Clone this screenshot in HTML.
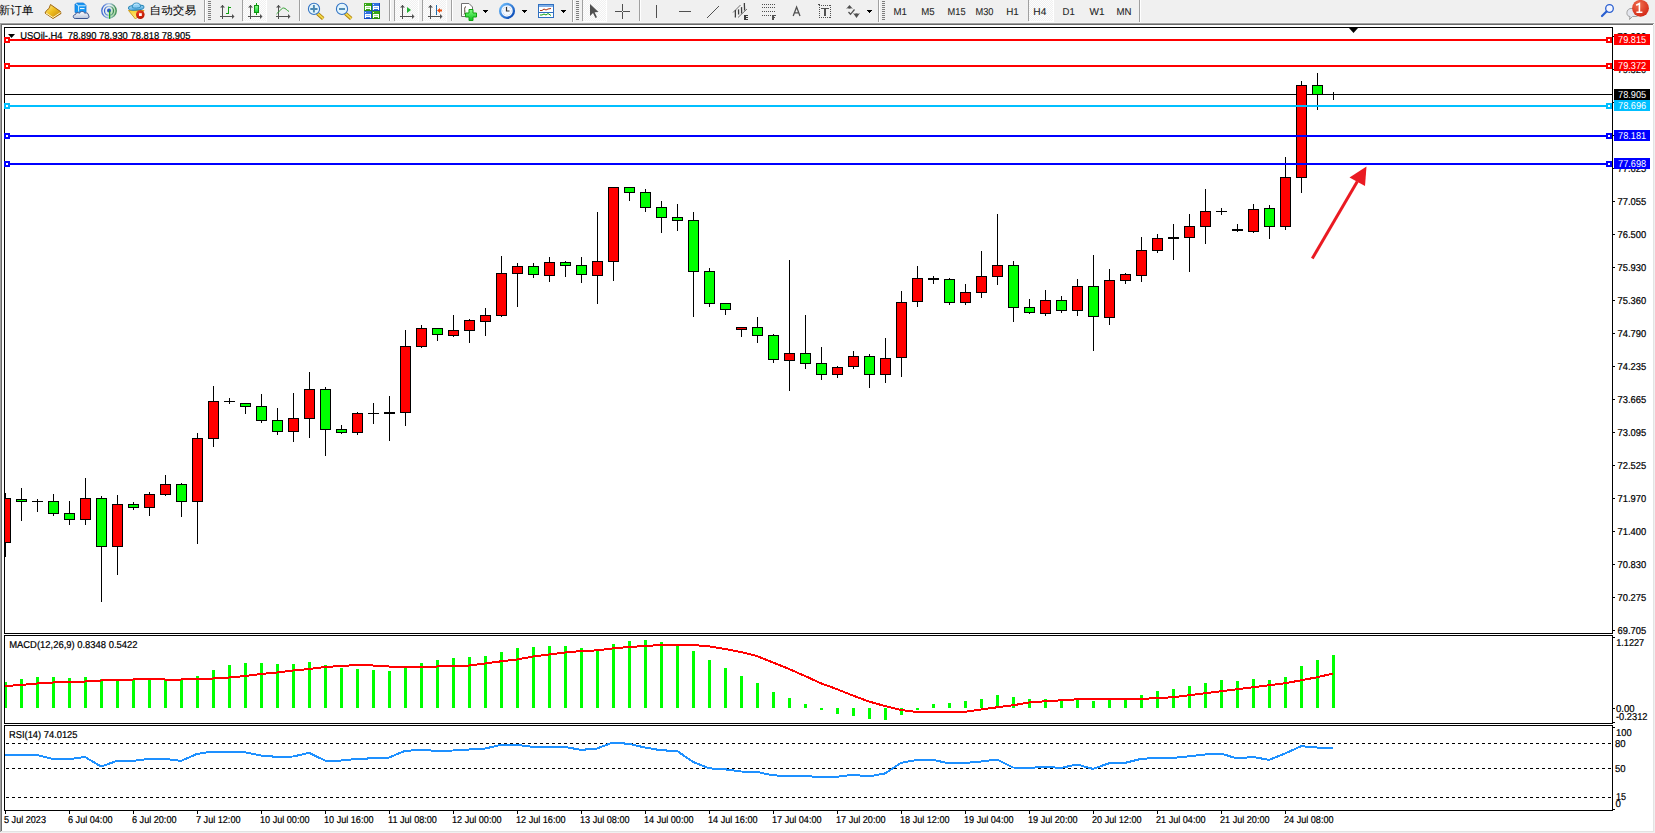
<!DOCTYPE html><html><head><meta charset="utf-8"><title>USOil-.H4</title><style>
html,body{margin:0;padding:0;}
body{width:1655px;height:833px;overflow:hidden;background:#f0f0f0;position:relative;font-family:'Liberation Sans', sans-serif;}
svg{position:absolute;left:0;top:0;display:block;}
text{font-family:'Liberation Sans', sans-serif;text-rendering:geometricPrecision;}
</style></head><body>
<svg width="1655" height="23" viewBox="0 0 1655 23" style="top:0">
<defs><pattern id="chk" width="2" height="2" patternUnits="userSpaceOnUse"><rect width="2" height="2" fill="#f0f0f0"/><rect width="1" height="1" fill="#fdfdfd"/><rect x="1" y="1" width="1" height="1" fill="#fdfdfd"/></pattern>
<linearGradient id="gold" x1="0" y1="0" x2="1" y2="1"><stop offset="0" stop-color="#fff0a0"/><stop offset=".45" stop-color="#f0c020"/><stop offset="1" stop-color="#c08010"/></linearGradient>
<linearGradient id="cloud" x1="0" y1="0" x2="0" y2="1"><stop offset="0" stop-color="#ffffff"/><stop offset="1" stop-color="#b8c4dc"/></linearGradient>
<linearGradient id="gcandle" x1="0" y1="0" x2="0" y2="1"><stop offset="0" stop-color="#90ff90"/><stop offset="1" stop-color="#10d030"/></linearGradient>
<linearGradient id="gplus" x1="0" y1="0" x2="0" y2="1"><stop offset="0" stop-color="#80ff80"/><stop offset="1" stop-color="#10c020"/></linearGradient>
<linearGradient id="radar" x1="0" y1="0" x2="1" y2="0"><stop offset="0" stop-color="#3a66d0"/><stop offset=".5" stop-color="#b0c8e8"/><stop offset="1" stop-color="#3a8a50"/></linearGradient>
<linearGradient id="radarfill" x1="0" y1="0" x2="1" y2=".6"><stop offset="0" stop-color="#f0f0f0" stop-opacity="0"/><stop offset=".5" stop-color="#e4eef0"/><stop offset="1" stop-color="#a8d8a0"/></linearGradient>
<linearGradient id="hat" x1="0" y1="0" x2="0" y2="1"><stop offset="0" stop-color="#a8dcfa"/><stop offset="1" stop-color="#50a8e0"/></linearGradient>
<linearGradient id="funnel" x1="0" y1="0" x2="0" y2="1"><stop offset="0" stop-color="#f8d030"/><stop offset="1" stop-color="#fff090"/></linearGradient>
<radialGradient id="badge" cx=".4" cy=".3" r=".8"><stop offset="0" stop-color="#f07050"/><stop offset="1" stop-color="#d02010"/></radialGradient>
<radialGradient id="stop" cx=".4" cy=".3" r=".8"><stop offset="0" stop-color="#f04020"/><stop offset="1" stop-color="#b01000"/></radialGradient>
<linearGradient id="clock" x1="0" y1="0" x2="1" y2="1"><stop offset="0" stop-color="#70c0ff"/><stop offset="1" stop-color="#0040b0"/></linearGradient>
</defs>
<rect x="0" y="22" width="1655" height="1" fill="#f6f6f6"/>
<text x="-1.5" y="13.6" font-size="11.2" fill="#000" textLength="35" lengthAdjust="spacingAndGlyphs">新订单</text>
<path d="M50.5 4.5 L60.5 11.5 L61 13.5 L53 18.5 L45 13 L46.5 10.5 L49 8.5 Z" fill="url(#gold)" stroke="#a06810" stroke-width="1"/>
<path d="M46 13 L53 17.5 L60.5 12.5" fill="none" stroke="#fff2c0" stroke-width="1"/>
<path d="M75 4 L77 3 L83.5 3 L86 5.5 L86 12.5 L75 12.5 Z" fill="#1496f2" stroke="#1a78d8" stroke-width="0.8"/>
<path d="M75.6 3.6 L78.6 5.8 L78.6 11.5 M78.6 5.8 L85.6 5.8" fill="none" stroke="#e8f6ff" stroke-width="0.9"/>
<rect x="80" y="8" width="4.5" height="1.1" fill="#e8f6ff"/>
<path d="M75.2 18.5 C72.6 18.5 72.6 14.6 75.4 14.6 C75.4 12.6 78.4 12 79.4 13.3 C80.4 10.9 84 10.9 84.8 13.3 C86 12.3 88.5 12.9 88.4 15.1 C89.6 16 89.2 18.5 87 18.5 Z" fill="url(#cloud)" stroke="#3a5590" stroke-width="1"/>
<circle cx="109" cy="10.8" r="7.6" fill="url(#radarfill)"/>
<g fill="none" stroke="url(#radar)" stroke-width="1.3">
<circle cx="109" cy="10.8" r="7.2"/>
<circle cx="109" cy="10.8" r="4.5"/>
</g>
<circle cx="109" cy="10.4" r="2" fill="#2a58c8"/>
<rect x="109" y="10.5" width="1.3" height="8.3" fill="#20a020"/>
<path d="M128.5 10.5 L135.5 19 L144 10.5 Z" fill="url(#funnel)" stroke="#d0a020" stroke-width="1"/>
<ellipse cx="136.2" cy="7.6" rx="7.8" ry="2.5" transform="rotate(-5 136.2 7.6)" fill="url(#hat)" stroke="#2a88b8" stroke-width="1"/>
<path d="M132.3 7.6 C132 4.2 134 3 136.5 3 C139 3 140.8 4.2 140.6 7 C138.5 8.2 134.5 8.4 132.3 7.6 Z" fill="#8ccff5" stroke="#2a88b8" stroke-width="0.9"/>
<path d="M134 5 C135 4 137 3.8 138.5 4.5" fill="none" stroke="#d8f0ff" stroke-width="0.8"/>
<circle cx="140.3" cy="14.6" r="4.3" fill="url(#stop)"/>
<rect x="139" y="13.2" width="2.8" height="2.8" fill="#ffffff"/>
<text x="149.5" y="13.6" font-size="11.2" fill="#000" textLength="46.5" lengthAdjust="spacingAndGlyphs">自动交易</text>
<rect x="204" y="0" width="1" height="22" fill="#a0a0a0"/>
<rect x="205" y="0" width="1" height="22" fill="#ffffff"/>
<rect x="208" y="1" width="3" height="1" fill="#7c7c7c"/>
<rect x="208" y="3" width="3" height="1" fill="#7c7c7c"/>
<rect x="208" y="5" width="3" height="1" fill="#7c7c7c"/>
<rect x="208" y="7" width="3" height="1" fill="#7c7c7c"/>
<rect x="208" y="9" width="3" height="1" fill="#7c7c7c"/>
<rect x="208" y="11" width="3" height="1" fill="#7c7c7c"/>
<rect x="208" y="13" width="3" height="1" fill="#7c7c7c"/>
<rect x="208" y="15" width="3" height="1" fill="#7c7c7c"/>
<rect x="208" y="17" width="3" height="1" fill="#7c7c7c"/>
<rect x="208" y="19" width="3" height="1" fill="#7c7c7c"/>
<rect x="222" y="5" width="1" height="14" fill="#505050"/>
<path d="M220 7.5h5l-2.5 -2.5z" fill="#505050"/>
<rect x="220" y="16" width="13" height="1" fill="#505050"/>
<path d="M232 14v5l2.5 -2.5z" fill="#505050"/>
<path d="M228.5 14 V6.5 M226 13.5 H228.5 M228.5 7.5 H231" fill="none" stroke="#10a010" stroke-width="1"/>
<rect x="242" y="0" width="1" height="21" fill="#a0a0a0"/>
<rect x="243" y="0" width="1" height="21" fill="#ffffff"/>
<rect x="243" y="0" width="23" height="21" fill="url(#chk)"/>
<rect x="266" y="0" width="1" height="22" fill="#ffffff"/>
<rect x="243" y="21" width="24" height="1" fill="#ffffff"/>
<rect x="250" y="5" width="1" height="14" fill="#505050"/>
<path d="M248 7.5h5l-2.5 -2.5z" fill="#505050"/>
<rect x="248" y="16" width="13" height="1" fill="#505050"/>
<path d="M260 14v5l2.5 -2.5z" fill="#505050"/>
<rect x="256" y="3" width="1" height="12" fill="#10a010"/>
<rect x="254.5" y="5.5" width="4" height="7" fill="url(#gcandle)" stroke="#109010" stroke-width="1"/>
<rect x="278" y="5" width="1" height="14" fill="#505050"/>
<path d="M276 7.5h5l-2.5 -2.5z" fill="#505050"/>
<rect x="276" y="16" width="13" height="1" fill="#505050"/>
<path d="M288 14v5l2.5 -2.5z" fill="#505050"/>
<path d="M276.5 14 C280 11 281.5 8 283.5 8 C285.5 8 287 10.5 289 11.5" fill="none" stroke="#30a030" stroke-width="1"/>
<rect x="299" y="0" width="1" height="21" fill="#a0a0a0"/>
<rect x="300" y="0" width="1" height="21" fill="#ffffff"/>
<path d="M317.3 13.3 L323.2 18.6" stroke="#a87800" stroke-width="3.6" stroke-linecap="butt"/>
<path d="M317.3 13.3 L323.2 18.6" stroke="#f2d84a" stroke-width="2" stroke-linecap="butt"/>
<circle cx="314.0" cy="8.9" r="5.6" fill="#e2f4fc" stroke="#3474c4" stroke-width="1.1"/>
<path d="M310.3 9h7.2M313.9 5v7.6" stroke="#4a88b4" stroke-width="1.9"/>
<path d="M345.3 13.3 L351.2 18.6" stroke="#a87800" stroke-width="3.6" stroke-linecap="butt"/>
<path d="M345.3 13.3 L351.2 18.6" stroke="#f2d84a" stroke-width="2" stroke-linecap="butt"/>
<circle cx="342.0" cy="8.9" r="5.6" fill="#e2f4fc" stroke="#3474c4" stroke-width="1.1"/>
<path d="M339.0 9h6" stroke="#4a88b4" stroke-width="1.9"/>
<g shape-rendering="crispEdges">
<rect x="364" y="3" width="8" height="8" fill="#3aa818"/>
<rect x="364" y="10" width="8" height="1" fill="#2c8c10"/><rect x="371" y="3" width="1" height="8" fill="#2c8c10"/>
<rect x="365" y="4" width="1" height="1" fill="#e8f0e8"/>
<rect x="365" y="6" width="6" height="3" fill="#ffffff"/>
<rect x="365" y="9" width="1" height="1" fill="#ffffff"/><rect x="370" y="9" width="1" height="1" fill="#ffffff"/>
<rect x="366" y="7" width="4" height="1" fill="#a8dc98"/>
<rect x="372" y="3" width="8" height="8" fill="#3070e0"/>
<rect x="372" y="10" width="8" height="1" fill="#1848c0"/><rect x="379" y="3" width="1" height="8" fill="#1848c0"/>
<rect x="373" y="4" width="1" height="1" fill="#e8f0e8"/>
<rect x="373" y="6" width="6" height="3" fill="#ffffff"/>
<rect x="373" y="9" width="1" height="1" fill="#ffffff"/><rect x="378" y="9" width="1" height="1" fill="#ffffff"/>
<rect x="374" y="7" width="4" height="1" fill="#98b8f0"/>
<rect x="364" y="11" width="8" height="8" fill="#3070e0"/>
<rect x="364" y="18" width="8" height="1" fill="#1848c0"/><rect x="371" y="11" width="1" height="8" fill="#1848c0"/>
<rect x="365" y="12" width="1" height="1" fill="#e8f0e8"/>
<rect x="365" y="14" width="6" height="3" fill="#ffffff"/>
<rect x="365" y="17" width="1" height="1" fill="#ffffff"/><rect x="370" y="17" width="1" height="1" fill="#ffffff"/>
<rect x="366" y="15" width="4" height="1" fill="#98b8f0"/>
<rect x="372" y="11" width="8" height="8" fill="#3aa818"/>
<rect x="372" y="18" width="8" height="1" fill="#2c8c10"/><rect x="379" y="11" width="1" height="8" fill="#2c8c10"/>
<rect x="373" y="12" width="1" height="1" fill="#e8f0e8"/>
<rect x="373" y="14" width="6" height="3" fill="#ffffff"/>
<rect x="373" y="17" width="1" height="1" fill="#ffffff"/><rect x="378" y="17" width="1" height="1" fill="#ffffff"/>
<rect x="374" y="15" width="4" height="1" fill="#a8dc98"/>
</g>
<rect x="389" y="0" width="1" height="21" fill="#a0a0a0"/>
<rect x="390" y="0" width="1" height="21" fill="#ffffff"/>
<rect x="394" y="0" width="1" height="21" fill="#a0a0a0"/>
<rect x="395" y="0" width="1" height="21" fill="#ffffff"/>
<rect x="395" y="0" width="23" height="21" fill="url(#chk)"/>
<rect x="418" y="0" width="1" height="22" fill="#ffffff"/>
<rect x="395" y="21" width="24" height="1" fill="#ffffff"/>
<rect x="402" y="5" width="1" height="14" fill="#505050"/>
<path d="M400 7.5h5l-2.5 -2.5z" fill="#505050"/>
<rect x="400" y="16" width="13" height="1" fill="#505050"/>
<path d="M412 14v5l2.5 -2.5z" fill="#505050"/>
<path d="M407 7 V13 L411 10 Z" fill="#20b030"/>
<rect x="422" y="0" width="1" height="21" fill="#a0a0a0"/>
<rect x="423" y="0" width="1" height="21" fill="#ffffff"/>
<rect x="423" y="0" width="23" height="21" fill="url(#chk)"/>
<rect x="446" y="0" width="1" height="22" fill="#ffffff"/>
<rect x="423" y="21" width="24" height="1" fill="#ffffff"/>
<rect x="430" y="5" width="1" height="14" fill="#505050"/>
<path d="M428 7.5h5l-2.5 -2.5z" fill="#505050"/>
<rect x="428" y="16" width="13" height="1" fill="#505050"/>
<path d="M440 14v5l2.5 -2.5z" fill="#505050"/>
<rect x="436" y="5" width="1" height="10" fill="#2070b0"/>
<path d="M437 10.5 L440 8 L440 9.5 L442 9.5 L442 11.5 L440 11.5 L440 13 Z" fill="#f05010"/>
<rect x="451" y="0" width="1" height="21" fill="#a0a0a0"/>
<rect x="452" y="0" width="1" height="21" fill="#ffffff"/>
<path d="M461.5 3.5 H469 L472.5 7 V16.5 H461.5 Z" fill="#ffffff" stroke="#707070" stroke-width="1"/>
<path d="M466 6.5 C464.5 7 464.5 9 464.8 11 C465 13 464.5 14 464 14.5" fill="none" stroke="#504030" stroke-width="1"/>
<path d="M469 9.5 H473 V13 H476.5 V17 H473 V20.5 H469 V17 H465.5 V13 H469 Z" fill="url(#gplus)" stroke="#10a010" stroke-width="1"/>
<g shape-rendering="crispEdges"><rect x="483" y="10" width="5" height="1" fill="#000"/><rect x="484" y="11" width="3" height="1" fill="#000"/><rect x="485" y="12" width="1" height="1" fill="#000"/></g>
<circle cx="507" cy="10.9" r="6.9" fill="#f4f8ff" stroke="url(#clock)" stroke-width="2.3"/>
<circle cx="507.00" cy="6.60" r=".35" fill="#8090a0"/>
<circle cx="509.15" cy="7.18" r=".35" fill="#8090a0"/>
<circle cx="510.72" cy="8.75" r=".35" fill="#8090a0"/>
<circle cx="511.30" cy="10.90" r=".35" fill="#8090a0"/>
<circle cx="510.72" cy="13.05" r=".35" fill="#8090a0"/>
<circle cx="509.15" cy="14.62" r=".35" fill="#8090a0"/>
<circle cx="507.00" cy="15.20" r=".35" fill="#8090a0"/>
<circle cx="504.85" cy="14.62" r=".35" fill="#8090a0"/>
<circle cx="503.28" cy="13.05" r=".35" fill="#8090a0"/>
<circle cx="502.70" cy="10.90" r=".35" fill="#8090a0"/>
<circle cx="503.28" cy="8.75" r=".35" fill="#8090a0"/>
<circle cx="504.85" cy="7.18" r=".35" fill="#8090a0"/>
<path d="M506.5 7 V11 H509.5" fill="none" stroke="#303030" stroke-width="1.2"/>
<g shape-rendering="crispEdges"><rect x="522" y="10" width="5" height="1" fill="#000"/><rect x="523" y="11" width="3" height="1" fill="#000"/><rect x="524" y="12" width="1" height="1" fill="#000"/></g>
<rect x="538.5" y="4.5" width="15" height="13" fill="#ffffff" stroke="#3070c0" stroke-width="1"/>
<rect x="539" y="5" width="14" height="2" fill="#80b0e8"/>
<rect x="539" y="12" width="14" height="1" fill="#3070c0"/>
<path d="M540 10.5 L542 10.5 L544 9 L546 10 L548 9 L551 8.5" fill="none" stroke="#b03010" stroke-width="1"/>
<path d="M540 15 L542 15 L544 14 L546 15 L548 13.5 L551 15.5" fill="none" stroke="#10a010" stroke-width="1"/>
<g shape-rendering="crispEdges"><rect x="561" y="10" width="5" height="1" fill="#000"/><rect x="562" y="11" width="3" height="1" fill="#000"/><rect x="563" y="12" width="1" height="1" fill="#000"/></g>
<rect x="572" y="0" width="1" height="22" fill="#a0a0a0"/>
<rect x="573" y="0" width="1" height="22" fill="#ffffff"/>
<rect x="576" y="1" width="3" height="1" fill="#7c7c7c"/>
<rect x="576" y="3" width="3" height="1" fill="#7c7c7c"/>
<rect x="576" y="5" width="3" height="1" fill="#7c7c7c"/>
<rect x="576" y="7" width="3" height="1" fill="#7c7c7c"/>
<rect x="576" y="9" width="3" height="1" fill="#7c7c7c"/>
<rect x="576" y="11" width="3" height="1" fill="#7c7c7c"/>
<rect x="576" y="13" width="3" height="1" fill="#7c7c7c"/>
<rect x="576" y="15" width="3" height="1" fill="#7c7c7c"/>
<rect x="576" y="17" width="3" height="1" fill="#7c7c7c"/>
<rect x="576" y="19" width="3" height="1" fill="#7c7c7c"/>
<rect x="582" y="0" width="1" height="21" fill="#a0a0a0"/>
<rect x="583" y="0" width="1" height="21" fill="#ffffff"/>
<rect x="583" y="0" width="23" height="21" fill="url(#chk)"/>
<rect x="606" y="0" width="1" height="22" fill="#ffffff"/>
<rect x="583" y="21" width="24" height="1" fill="#ffffff"/>
<path d="M590 4 L590 16 L593 13 L595.5 18 L597 17.2 L594.6 12.3 L598.5 12 Z" fill="#505050"/>
<g shape-rendering="crispEdges"><rect x="622" y="4" width="1" height="15" fill="#505050"/><rect x="615" y="11" width="15" height="1" fill="#505050"/>
<rect x="622" y="11" width="1" height="1" fill="#f0f0f0"/></g>
<rect x="639" y="0" width="1" height="21" fill="#a0a0a0"/>
<rect x="640" y="0" width="1" height="21" fill="#ffffff"/>
<rect x="656" y="5" width="1" height="13" fill="#505050"/>
<rect x="679" y="11" width="12" height="1" fill="#505050"/>
<path d="M707 18 L719 6" stroke="#505050" stroke-width="1"/>
<path d="M733 12.5 L740.5 5 M738 17.5 L747 9" stroke="#707070" stroke-width="1" fill="none"/>
<path d="M735.5 10 C735 13 735.8 15 735.2 17.5 M738.6 9.3 C738.3 11 738.9 13 738.5 14.5 M741.6 7.2 C741.3 9.5 741.9 11 741.5 13.5 M744.4 3 C744.2 6 744.8 8 744.5 10.5" stroke="#404040" stroke-width="1.3" fill="none"/>
<g shape-rendering="crispEdges" fill="#3c3c3c"><rect x="744" y="15" width="2" height="5"/><rect x="744" y="15" width="4" height="1"/><rect x="744" y="17" width="4" height="1"/><rect x="744" y="19" width="4" height="1"/></g>
<g shape-rendering="crispEdges" fill="#505050">
<rect x="762" y="4" width="1" height="1"/>
<rect x="764" y="4" width="1" height="1"/>
<rect x="766" y="4" width="1" height="1"/>
<rect x="768" y="4" width="1" height="1"/>
<rect x="770" y="4" width="1" height="1"/>
<rect x="772" y="4" width="1" height="1"/>
<rect x="774" y="4" width="1" height="1"/>
<rect x="762" y="7" width="1" height="1"/>
<rect x="764" y="7" width="1" height="1"/>
<rect x="766" y="7" width="1" height="1"/>
<rect x="768" y="7" width="1" height="1"/>
<rect x="770" y="7" width="1" height="1"/>
<rect x="772" y="7" width="1" height="1"/>
<rect x="774" y="7" width="1" height="1"/>
<rect x="762" y="11" width="1" height="1"/>
<rect x="764" y="11" width="1" height="1"/>
<rect x="766" y="11" width="1" height="1"/>
<rect x="768" y="11" width="1" height="1"/>
<rect x="770" y="11" width="1" height="1"/>
<rect x="772" y="11" width="1" height="1"/>
<rect x="774" y="11" width="1" height="1"/>
<rect x="762" y="15" width="1" height="1"/>
<rect x="764" y="15" width="1" height="1"/>
<rect x="766" y="15" width="1" height="1"/>
<rect x="768" y="15" width="1" height="1"/>
<rect x="770" y="15" width="1" height="1"/>
<rect x="772" y="15" width="2" height="5"/><rect x="772" y="15" width="4" height="1"/><rect x="772" y="17" width="3" height="1"/>
</g>
<path d="M793.2 16 L796.6 7 L800 16 M794.5 12.8 H798.7" fill="none" stroke="#505050" stroke-width="1.3"/>
<g shape-rendering="crispEdges" fill="#505050">
<rect x="819" y="5" width="1" height="1"/><rect x="819" y="17" width="1" height="1"/>
<rect x="821" y="5" width="1" height="1"/><rect x="821" y="17" width="1" height="1"/>
<rect x="823" y="5" width="1" height="1"/><rect x="823" y="17" width="1" height="1"/>
<rect x="825" y="5" width="1" height="1"/><rect x="825" y="17" width="1" height="1"/>
<rect x="827" y="5" width="1" height="1"/><rect x="827" y="17" width="1" height="1"/>
<rect x="829" y="5" width="1" height="1"/><rect x="829" y="17" width="1" height="1"/>
<rect x="819" y="5" width="1" height="1"/><rect x="830" y="5" width="1" height="1"/>
<rect x="819" y="7" width="1" height="1"/><rect x="830" y="7" width="1" height="1"/>
<rect x="819" y="9" width="1" height="1"/><rect x="830" y="9" width="1" height="1"/>
<rect x="819" y="11" width="1" height="1"/><rect x="830" y="11" width="1" height="1"/>
<rect x="819" y="13" width="1" height="1"/><rect x="830" y="13" width="1" height="1"/>
<rect x="819" y="15" width="1" height="1"/><rect x="830" y="15" width="1" height="1"/>
<rect x="819" y="17" width="1" height="1"/><rect x="830" y="17" width="1" height="1"/>
<rect x="818" y="4" width="2" height="1"/>
<rect x="821" y="8" width="8" height="1"/><rect x="824" y="8" width="2" height="8"/>
</g>
<path d="M846 9 L849.5 5 L853 9 L851.5 8.2 L849.5 8.8 L847.5 8.2 Z M853 13 L854.5 13.8 L856.5 13.2 L858.5 13.8 L860 13 L856.5 18 Z" fill="#505050"/>
<path d="M848.5 12 L850.5 14.3 L854.5 9.5" fill="none" stroke="#505050" stroke-width="1.3"/>
<g shape-rendering="crispEdges"><rect x="867" y="10" width="5" height="1" fill="#000"/><rect x="868" y="11" width="3" height="1" fill="#000"/><rect x="869" y="12" width="1" height="1" fill="#000"/></g>
<rect x="878" y="0" width="1" height="22" fill="#a0a0a0"/>
<rect x="879" y="0" width="1" height="22" fill="#ffffff"/>
<rect x="882" y="1" width="3" height="1" fill="#7c7c7c"/>
<rect x="882" y="3" width="3" height="1" fill="#7c7c7c"/>
<rect x="882" y="5" width="3" height="1" fill="#7c7c7c"/>
<rect x="882" y="7" width="3" height="1" fill="#7c7c7c"/>
<rect x="882" y="9" width="3" height="1" fill="#7c7c7c"/>
<rect x="882" y="11" width="3" height="1" fill="#7c7c7c"/>
<rect x="882" y="13" width="3" height="1" fill="#7c7c7c"/>
<rect x="882" y="15" width="3" height="1" fill="#7c7c7c"/>
<rect x="882" y="17" width="3" height="1" fill="#7c7c7c"/>
<rect x="882" y="19" width="3" height="1" fill="#7c7c7c"/>
<text x="893.50" y="15.20" font-size="10.00" fill="#222222" stroke="#222222" stroke-width="0.08" textLength="13.40" lengthAdjust="spacingAndGlyphs" >M1</text>
<text x="921.30" y="15.20" font-size="10.00" fill="#222222" stroke="#222222" stroke-width="0.08" textLength="13.40" lengthAdjust="spacingAndGlyphs" >M5</text>
<text x="947.60" y="15.20" font-size="10.00" fill="#222222" stroke="#222222" stroke-width="0.08" textLength="18.00" lengthAdjust="spacingAndGlyphs" >M15</text>
<text x="975.50" y="15.20" font-size="10.00" fill="#222222" stroke="#222222" stroke-width="0.08" textLength="18.00" lengthAdjust="spacingAndGlyphs" >M30</text>
<text x="1006.20" y="15.20" font-size="10.00" fill="#222222" stroke="#222222" stroke-width="0.08" textLength="12.60" lengthAdjust="spacingAndGlyphs" >H1</text>
<rect x="1028" y="0" width="1" height="21" fill="#a0a0a0"/>
<rect x="1029" y="0" width="24" height="21" fill="url(#chk)"/>
<rect x="1053" y="0" width="1" height="22" fill="#ffffff"/>
<rect x="1029" y="21" width="25" height="1" fill="#ffffff"/>
<text x="1033.30" y="15.20" font-size="10.00" fill="#222222" stroke="#222222" stroke-width="0.08" textLength="13.00" lengthAdjust="spacingAndGlyphs" >H4</text>
<text x="1062.50" y="15.20" font-size="10.00" fill="#222222" stroke="#222222" stroke-width="0.08" textLength="12.20" lengthAdjust="spacingAndGlyphs" >D1</text>
<text x="1089.60" y="15.20" font-size="10.00" fill="#222222" stroke="#222222" stroke-width="0.08" textLength="15.00" lengthAdjust="spacingAndGlyphs" >W1</text>
<text x="1116.60" y="15.20" font-size="10.00" fill="#222222" stroke="#222222" stroke-width="0.08" textLength="15.00" lengthAdjust="spacingAndGlyphs" >MN</text>
<rect x="1139" y="0" width="1" height="22" fill="#a0a0a0"/>
<rect x="1140" y="0" width="1" height="22" fill="#ffffff"/>
<circle cx="1609.5" cy="8.5" r="3.8" fill="#f4f6ff" stroke="#2a5fd0" stroke-width="1.3"/>
<path d="M1606.5 11.5 L1602 16" stroke="#2a5fd0" stroke-width="2.2" stroke-linecap="round"/>
<path d="M1631 8.5 C1626 8.5 1625.5 16.5 1630 16.5 L1629.5 19.5 L1632.5 16.5 L1636 16.5 C1640 16.5 1640 8.5 1636 8.5 Z" fill="#e4e6ee" stroke="#a0a0a0" stroke-width="1"/>
<circle cx="1640.5" cy="8.3" r="8.4" fill="url(#badge)"/>
<path d="M1636.2 5.2 L1639.4 3.6 L1639.4 11.6 M1636.4 12.3 H1642.4" fill="none" stroke="#ffffff" stroke-width="1.6"/>
</svg>
<svg width="1655" height="810" viewBox="0 23 1655 810" style="top:23px" shape-rendering="crispEdges">
<rect x="0" y="23" width="1655" height="810" fill="#ffffff"/>
<rect x="0" y="23" width="1654" height="1" fill="#a0a0a0"/>
<rect x="0" y="24" width="1653" height="1" fill="#696969"/>
<rect x="0" y="23" width="1" height="809" fill="#a0a0a0"/>
<rect x="1" y="24" width="1" height="807" fill="#696969"/>
<rect x="1653" y="25" width="1" height="807" fill="#e3e3e3"/>
<rect x="1" y="831" width="1653" height="1" fill="#e3e3e3"/>
<rect x="1654" y="23" width="1" height="810" fill="#f0f0f0"/>
<rect x="0" y="832" width="1655" height="1" fill="#f0f0f0"/>
<rect x="4" y="27" width="1609" height="1" fill="#000"/>
<rect x="4" y="633" width="1609" height="1" fill="#000"/>
<rect x="4" y="27" width="1" height="607" fill="#000"/>
<rect x="1612" y="27" width="1" height="607" fill="#000"/>
<rect x="4" y="635" width="1609" height="1" fill="#000"/>
<rect x="4" y="723" width="1609" height="1" fill="#000"/>
<rect x="4" y="635" width="1" height="89" fill="#000"/>
<rect x="1612" y="635" width="1" height="89" fill="#000"/>
<rect x="4" y="725" width="1609" height="1" fill="#000"/>
<rect x="4" y="810" width="1609" height="1" fill="#000"/>
<rect x="4" y="725" width="1" height="86" fill="#000"/>
<rect x="1612" y="725" width="1" height="86" fill="#000"/>
<defs><clipPath id="cm"><rect x="5" y="28" width="1607" height="605"/></clipPath>
<clipPath id="cmacd"><rect x="5" y="636" width="1607" height="87"/></clipPath>
<clipPath id="crsi"><rect x="5" y="726" width="1607" height="84"/></clipPath></defs>
<g clip-path="url(#cm)">
<rect x="5" y="94" width="1607" height="1" fill="#000"/>
<rect x="5" y="493" width="1" height="64" fill="#000"/>
<rect x="0" y="498" width="11" height="45" fill="#000"/>
<rect x="1" y="499" width="9" height="43" fill="#ff0000"/>
<rect x="21" y="488" width="1" height="33" fill="#000"/>
<rect x="16" y="499" width="11" height="3" fill="#000"/>
<rect x="17" y="500" width="9" height="1" fill="#00ff00"/>
<rect x="37" y="499" width="1" height="13" fill="#000"/>
<rect x="32" y="501" width="11" height="1" fill="#000"/>
<rect x="53" y="494" width="1" height="22" fill="#000"/>
<rect x="48" y="501" width="11" height="13" fill="#000"/>
<rect x="49" y="502" width="9" height="11" fill="#00ff00"/>
<rect x="69" y="501" width="1" height="24" fill="#000"/>
<rect x="64" y="513" width="11" height="7" fill="#000"/>
<rect x="65" y="514" width="9" height="5" fill="#00ff00"/>
<rect x="85" y="478" width="1" height="47" fill="#000"/>
<rect x="80" y="498" width="11" height="22" fill="#000"/>
<rect x="81" y="499" width="9" height="20" fill="#ff0000"/>
<rect x="101" y="496" width="1" height="106" fill="#000"/>
<rect x="96" y="498" width="11" height="49" fill="#000"/>
<rect x="97" y="499" width="9" height="47" fill="#00ff00"/>
<rect x="117" y="495" width="1" height="80" fill="#000"/>
<rect x="112" y="504" width="11" height="43" fill="#000"/>
<rect x="113" y="505" width="9" height="41" fill="#ff0000"/>
<rect x="133" y="502" width="1" height="8" fill="#000"/>
<rect x="128" y="504" width="11" height="4" fill="#000"/>
<rect x="129" y="505" width="9" height="2" fill="#00ff00"/>
<rect x="149" y="492" width="1" height="24" fill="#000"/>
<rect x="144" y="494" width="11" height="14" fill="#000"/>
<rect x="145" y="495" width="9" height="12" fill="#ff0000"/>
<rect x="165" y="475" width="1" height="21" fill="#000"/>
<rect x="160" y="484" width="11" height="11" fill="#000"/>
<rect x="161" y="485" width="9" height="9" fill="#ff0000"/>
<rect x="181" y="483" width="1" height="34" fill="#000"/>
<rect x="176" y="484" width="11" height="18" fill="#000"/>
<rect x="177" y="485" width="9" height="16" fill="#00ff00"/>
<rect x="197" y="433" width="1" height="111" fill="#000"/>
<rect x="192" y="438" width="11" height="64" fill="#000"/>
<rect x="193" y="439" width="9" height="62" fill="#ff0000"/>
<rect x="213" y="386" width="1" height="61" fill="#000"/>
<rect x="208" y="401" width="11" height="38" fill="#000"/>
<rect x="209" y="402" width="9" height="36" fill="#ff0000"/>
<rect x="229" y="398" width="1" height="6" fill="#000"/>
<rect x="224" y="401" width="11" height="1" fill="#000"/>
<rect x="245" y="403" width="1" height="11" fill="#000"/>
<rect x="240" y="403" width="11" height="4" fill="#000"/>
<rect x="241" y="404" width="9" height="2" fill="#00ff00"/>
<rect x="261" y="394" width="1" height="29" fill="#000"/>
<rect x="256" y="406" width="11" height="15" fill="#000"/>
<rect x="257" y="407" width="9" height="13" fill="#00ff00"/>
<rect x="277" y="408" width="1" height="27" fill="#000"/>
<rect x="272" y="420" width="11" height="12" fill="#000"/>
<rect x="273" y="421" width="9" height="10" fill="#00ff00"/>
<rect x="293" y="393" width="1" height="49" fill="#000"/>
<rect x="288" y="418" width="11" height="14" fill="#000"/>
<rect x="289" y="419" width="9" height="12" fill="#ff0000"/>
<rect x="309" y="372" width="1" height="66" fill="#000"/>
<rect x="304" y="389" width="11" height="30" fill="#000"/>
<rect x="305" y="390" width="9" height="28" fill="#ff0000"/>
<rect x="325" y="387" width="1" height="69" fill="#000"/>
<rect x="320" y="389" width="11" height="41" fill="#000"/>
<rect x="321" y="390" width="9" height="39" fill="#00ff00"/>
<rect x="341" y="425" width="1" height="9" fill="#000"/>
<rect x="336" y="429" width="11" height="4" fill="#000"/>
<rect x="337" y="430" width="9" height="2" fill="#00ff00"/>
<rect x="357" y="412" width="1" height="23" fill="#000"/>
<rect x="352" y="413" width="11" height="20" fill="#000"/>
<rect x="353" y="414" width="9" height="18" fill="#ff0000"/>
<rect x="373" y="403" width="1" height="21" fill="#000"/>
<rect x="368" y="413" width="11" height="1" fill="#000"/>
<rect x="389" y="396" width="1" height="45" fill="#000"/>
<rect x="384" y="412" width="11" height="2" fill="#000"/>
<rect x="405" y="330" width="1" height="96" fill="#000"/>
<rect x="400" y="346" width="11" height="67" fill="#000"/>
<rect x="401" y="347" width="9" height="65" fill="#ff0000"/>
<rect x="421" y="325" width="1" height="23" fill="#000"/>
<rect x="416" y="328" width="11" height="19" fill="#000"/>
<rect x="417" y="329" width="9" height="17" fill="#ff0000"/>
<rect x="437" y="328" width="1" height="13" fill="#000"/>
<rect x="432" y="328" width="11" height="7" fill="#000"/>
<rect x="433" y="329" width="9" height="5" fill="#00ff00"/>
<rect x="453" y="315" width="1" height="22" fill="#000"/>
<rect x="448" y="330" width="11" height="6" fill="#000"/>
<rect x="449" y="331" width="9" height="4" fill="#ff0000"/>
<rect x="469" y="319" width="1" height="24" fill="#000"/>
<rect x="464" y="320" width="11" height="11" fill="#000"/>
<rect x="465" y="321" width="9" height="9" fill="#ff0000"/>
<rect x="485" y="308" width="1" height="28" fill="#000"/>
<rect x="480" y="315" width="11" height="7" fill="#000"/>
<rect x="481" y="316" width="9" height="5" fill="#ff0000"/>
<rect x="501" y="256" width="1" height="61" fill="#000"/>
<rect x="496" y="273" width="11" height="43" fill="#000"/>
<rect x="497" y="274" width="9" height="41" fill="#ff0000"/>
<rect x="517" y="263" width="1" height="44" fill="#000"/>
<rect x="512" y="266" width="11" height="8" fill="#000"/>
<rect x="513" y="267" width="9" height="6" fill="#ff0000"/>
<rect x="533" y="263" width="1" height="15" fill="#000"/>
<rect x="528" y="266" width="11" height="9" fill="#000"/>
<rect x="529" y="267" width="9" height="7" fill="#00ff00"/>
<rect x="549" y="257" width="1" height="25" fill="#000"/>
<rect x="544" y="262" width="11" height="14" fill="#000"/>
<rect x="545" y="263" width="9" height="12" fill="#ff0000"/>
<rect x="565" y="261" width="1" height="16" fill="#000"/>
<rect x="560" y="262" width="11" height="4" fill="#000"/>
<rect x="561" y="263" width="9" height="2" fill="#00ff00"/>
<rect x="581" y="257" width="1" height="26" fill="#000"/>
<rect x="576" y="265" width="11" height="10" fill="#000"/>
<rect x="577" y="266" width="9" height="8" fill="#00ff00"/>
<rect x="597" y="212" width="1" height="92" fill="#000"/>
<rect x="592" y="261" width="11" height="15" fill="#000"/>
<rect x="593" y="262" width="9" height="13" fill="#ff0000"/>
<rect x="613" y="187" width="1" height="94" fill="#000"/>
<rect x="608" y="187" width="11" height="75" fill="#000"/>
<rect x="609" y="188" width="9" height="73" fill="#ff0000"/>
<rect x="629" y="187" width="1" height="14" fill="#000"/>
<rect x="624" y="187" width="11" height="6" fill="#000"/>
<rect x="625" y="188" width="9" height="4" fill="#00ff00"/>
<rect x="645" y="189" width="1" height="23" fill="#000"/>
<rect x="640" y="192" width="11" height="16" fill="#000"/>
<rect x="641" y="193" width="9" height="14" fill="#00ff00"/>
<rect x="661" y="201" width="1" height="32" fill="#000"/>
<rect x="656" y="207" width="11" height="11" fill="#000"/>
<rect x="657" y="208" width="9" height="9" fill="#00ff00"/>
<rect x="677" y="204" width="1" height="27" fill="#000"/>
<rect x="672" y="217" width="11" height="4" fill="#000"/>
<rect x="673" y="218" width="9" height="2" fill="#00ff00"/>
<rect x="693" y="212" width="1" height="105" fill="#000"/>
<rect x="688" y="220" width="11" height="52" fill="#000"/>
<rect x="689" y="221" width="9" height="50" fill="#00ff00"/>
<rect x="709" y="268" width="1" height="39" fill="#000"/>
<rect x="704" y="271" width="11" height="33" fill="#000"/>
<rect x="705" y="272" width="9" height="31" fill="#00ff00"/>
<rect x="725" y="303" width="1" height="12" fill="#000"/>
<rect x="720" y="303" width="11" height="7" fill="#000"/>
<rect x="721" y="304" width="9" height="5" fill="#00ff00"/>
<rect x="741" y="327" width="1" height="10" fill="#000"/>
<rect x="736" y="327" width="11" height="3" fill="#000"/>
<rect x="737" y="328" width="9" height="1" fill="#ff0000"/>
<rect x="757" y="317" width="1" height="26" fill="#000"/>
<rect x="752" y="327" width="11" height="9" fill="#000"/>
<rect x="753" y="328" width="9" height="7" fill="#00ff00"/>
<rect x="773" y="334" width="1" height="29" fill="#000"/>
<rect x="768" y="335" width="11" height="25" fill="#000"/>
<rect x="769" y="336" width="9" height="23" fill="#00ff00"/>
<rect x="789" y="260" width="1" height="131" fill="#000"/>
<rect x="784" y="353" width="11" height="8" fill="#000"/>
<rect x="785" y="354" width="9" height="6" fill="#ff0000"/>
<rect x="805" y="315" width="1" height="54" fill="#000"/>
<rect x="800" y="353" width="11" height="11" fill="#000"/>
<rect x="801" y="354" width="9" height="9" fill="#00ff00"/>
<rect x="821" y="347" width="1" height="33" fill="#000"/>
<rect x="816" y="363" width="11" height="12" fill="#000"/>
<rect x="817" y="364" width="9" height="10" fill="#00ff00"/>
<rect x="837" y="366" width="1" height="12" fill="#000"/>
<rect x="832" y="367" width="11" height="8" fill="#000"/>
<rect x="833" y="368" width="9" height="6" fill="#ff0000"/>
<rect x="853" y="351" width="1" height="18" fill="#000"/>
<rect x="848" y="356" width="11" height="11" fill="#000"/>
<rect x="849" y="357" width="9" height="9" fill="#ff0000"/>
<rect x="869" y="354" width="1" height="34" fill="#000"/>
<rect x="864" y="356" width="11" height="19" fill="#000"/>
<rect x="865" y="357" width="9" height="17" fill="#00ff00"/>
<rect x="885" y="338" width="1" height="45" fill="#000"/>
<rect x="880" y="358" width="11" height="17" fill="#000"/>
<rect x="881" y="359" width="9" height="15" fill="#ff0000"/>
<rect x="901" y="291" width="1" height="86" fill="#000"/>
<rect x="896" y="302" width="11" height="56" fill="#000"/>
<rect x="897" y="303" width="9" height="54" fill="#ff0000"/>
<rect x="917" y="266" width="1" height="41" fill="#000"/>
<rect x="912" y="278" width="11" height="24" fill="#000"/>
<rect x="913" y="279" width="9" height="22" fill="#ff0000"/>
<rect x="933" y="276" width="1" height="8" fill="#000"/>
<rect x="928" y="278" width="11" height="2" fill="#000"/>
<rect x="949" y="278" width="1" height="27" fill="#000"/>
<rect x="944" y="279" width="11" height="24" fill="#000"/>
<rect x="945" y="280" width="9" height="22" fill="#00ff00"/>
<rect x="965" y="284" width="1" height="21" fill="#000"/>
<rect x="960" y="292" width="11" height="11" fill="#000"/>
<rect x="961" y="293" width="9" height="9" fill="#ff0000"/>
<rect x="981" y="251" width="1" height="47" fill="#000"/>
<rect x="976" y="276" width="11" height="17" fill="#000"/>
<rect x="977" y="277" width="9" height="15" fill="#ff0000"/>
<rect x="997" y="214" width="1" height="71" fill="#000"/>
<rect x="992" y="265" width="11" height="12" fill="#000"/>
<rect x="993" y="266" width="9" height="10" fill="#ff0000"/>
<rect x="1013" y="261" width="1" height="61" fill="#000"/>
<rect x="1008" y="265" width="11" height="43" fill="#000"/>
<rect x="1009" y="266" width="9" height="41" fill="#00ff00"/>
<rect x="1029" y="299" width="1" height="15" fill="#000"/>
<rect x="1024" y="307" width="11" height="6" fill="#000"/>
<rect x="1025" y="308" width="9" height="4" fill="#00ff00"/>
<rect x="1045" y="290" width="1" height="26" fill="#000"/>
<rect x="1040" y="300" width="11" height="14" fill="#000"/>
<rect x="1041" y="301" width="9" height="12" fill="#ff0000"/>
<rect x="1061" y="296" width="1" height="17" fill="#000"/>
<rect x="1056" y="300" width="11" height="11" fill="#000"/>
<rect x="1057" y="301" width="9" height="9" fill="#00ff00"/>
<rect x="1077" y="279" width="1" height="37" fill="#000"/>
<rect x="1072" y="286" width="11" height="25" fill="#000"/>
<rect x="1073" y="287" width="9" height="23" fill="#ff0000"/>
<rect x="1093" y="255" width="1" height="96" fill="#000"/>
<rect x="1088" y="286" width="11" height="31" fill="#000"/>
<rect x="1089" y="287" width="9" height="29" fill="#00ff00"/>
<rect x="1109" y="269" width="1" height="56" fill="#000"/>
<rect x="1104" y="280" width="11" height="38" fill="#000"/>
<rect x="1105" y="281" width="9" height="36" fill="#ff0000"/>
<rect x="1125" y="273" width="1" height="11" fill="#000"/>
<rect x="1120" y="274" width="11" height="7" fill="#000"/>
<rect x="1121" y="275" width="9" height="5" fill="#ff0000"/>
<rect x="1141" y="237" width="1" height="45" fill="#000"/>
<rect x="1136" y="250" width="11" height="26" fill="#000"/>
<rect x="1137" y="251" width="9" height="24" fill="#ff0000"/>
<rect x="1157" y="234" width="1" height="19" fill="#000"/>
<rect x="1152" y="238" width="11" height="13" fill="#000"/>
<rect x="1153" y="239" width="9" height="11" fill="#ff0000"/>
<rect x="1173" y="224" width="1" height="36" fill="#000"/>
<rect x="1168" y="237" width="11" height="2" fill="#000"/>
<rect x="1189" y="214" width="1" height="58" fill="#000"/>
<rect x="1184" y="226" width="11" height="12" fill="#000"/>
<rect x="1185" y="227" width="9" height="10" fill="#ff0000"/>
<rect x="1205" y="189" width="1" height="55" fill="#000"/>
<rect x="1200" y="211" width="11" height="16" fill="#000"/>
<rect x="1201" y="212" width="9" height="14" fill="#ff0000"/>
<rect x="1221" y="208" width="1" height="7" fill="#000"/>
<rect x="1216" y="211" width="11" height="1" fill="#000"/>
<rect x="1237" y="224" width="1" height="8" fill="#000"/>
<rect x="1232" y="229" width="11" height="2" fill="#000"/>
<rect x="1253" y="204" width="1" height="29" fill="#000"/>
<rect x="1248" y="209" width="11" height="23" fill="#000"/>
<rect x="1249" y="210" width="9" height="21" fill="#ff0000"/>
<rect x="1269" y="205" width="1" height="34" fill="#000"/>
<rect x="1264" y="208" width="11" height="19" fill="#000"/>
<rect x="1265" y="209" width="9" height="17" fill="#00ff00"/>
<rect x="1285" y="157" width="1" height="73" fill="#000"/>
<rect x="1280" y="177" width="11" height="50" fill="#000"/>
<rect x="1281" y="178" width="9" height="48" fill="#ff0000"/>
<rect x="1301" y="81" width="1" height="112" fill="#000"/>
<rect x="1296" y="85" width="11" height="93" fill="#000"/>
<rect x="1297" y="86" width="9" height="91" fill="#ff0000"/>
<rect x="1317" y="73" width="1" height="37" fill="#000"/>
<rect x="1312" y="85" width="11" height="10" fill="#000"/>
<rect x="1313" y="86" width="9" height="8" fill="#00ff00"/>
<rect x="1333" y="92" width="1" height="8" fill="#000"/>
<rect x="1328" y="94" width="11" height="1" fill="#000"/>
<rect x="5" y="39" width="1607" height="2" fill="#ff0000"/>
<rect x="5" y="65" width="1607" height="2" fill="#ff0000"/>
<rect x="5" y="105" width="1607" height="2" fill="#00bfff"/>
<rect x="5" y="135" width="1607" height="2" fill="#0000ff"/>
<rect x="5" y="163" width="1607" height="2" fill="#0000ff"/>
</g>
<rect x="4" y="37" width="6" height="6" fill="#ff0000"/>
<rect x="6" y="39" width="2" height="2" fill="#ffffff"/>
<rect x="1606" y="37" width="6" height="6" fill="#ff0000"/>
<rect x="1608" y="39" width="2" height="2" fill="#ffffff"/>
<rect x="4" y="63" width="6" height="6" fill="#ff0000"/>
<rect x="6" y="65" width="2" height="2" fill="#ffffff"/>
<rect x="1606" y="63" width="6" height="6" fill="#ff0000"/>
<rect x="1608" y="65" width="2" height="2" fill="#ffffff"/>
<rect x="4" y="103" width="6" height="6" fill="#00bfff"/>
<rect x="6" y="105" width="2" height="2" fill="#ffffff"/>
<rect x="1606" y="103" width="6" height="6" fill="#00bfff"/>
<rect x="1608" y="105" width="2" height="2" fill="#ffffff"/>
<rect x="4" y="133" width="6" height="6" fill="#0000ff"/>
<rect x="6" y="135" width="2" height="2" fill="#ffffff"/>
<rect x="1606" y="133" width="6" height="6" fill="#0000ff"/>
<rect x="1608" y="135" width="2" height="2" fill="#ffffff"/>
<rect x="4" y="161" width="6" height="6" fill="#0000ff"/>
<rect x="6" y="163" width="2" height="2" fill="#ffffff"/>
<rect x="1606" y="161" width="6" height="6" fill="#0000ff"/>
<rect x="1608" y="163" width="2" height="2" fill="#ffffff"/>
<path d="M1349 28 L1358 28 L1353.5 33 Z" fill="#000" shape-rendering="auto"/>
<path d="M8 34 L15 34 L11.5 38 Z" fill="#000" shape-rendering="auto"/>
<g shape-rendering="auto"><path d="M1312.3 258.5 L1357.3 181.5" stroke="#ea1a22" stroke-width="3" fill="none"/>
<path d="M1366.5 166.5 L1349.5 177.5 L1365 186 Z" fill="#ea1a22"/></g>
<g clip-path="url(#cmacd)">
<rect x="4" y="682" width="3" height="26" fill="#00ff00"/>
<rect x="20" y="679" width="3" height="29" fill="#00ff00"/>
<rect x="36" y="677" width="3" height="31" fill="#00ff00"/>
<rect x="52" y="677" width="3" height="31" fill="#00ff00"/>
<rect x="68" y="678" width="3" height="30" fill="#00ff00"/>
<rect x="84" y="677" width="3" height="31" fill="#00ff00"/>
<rect x="100" y="679" width="3" height="29" fill="#00ff00"/>
<rect x="116" y="679" width="3" height="29" fill="#00ff00"/>
<rect x="132" y="679" width="3" height="29" fill="#00ff00"/>
<rect x="148" y="679" width="3" height="29" fill="#00ff00"/>
<rect x="164" y="679" width="3" height="29" fill="#00ff00"/>
<rect x="180" y="680" width="3" height="28" fill="#00ff00"/>
<rect x="196" y="676" width="3" height="32" fill="#00ff00"/>
<rect x="212" y="670" width="3" height="38" fill="#00ff00"/>
<rect x="228" y="665" width="3" height="43" fill="#00ff00"/>
<rect x="244" y="663" width="3" height="45" fill="#00ff00"/>
<rect x="260" y="663" width="3" height="45" fill="#00ff00"/>
<rect x="276" y="664" width="3" height="44" fill="#00ff00"/>
<rect x="292" y="664" width="3" height="44" fill="#00ff00"/>
<rect x="308" y="662" width="3" height="46" fill="#00ff00"/>
<rect x="324" y="665" width="3" height="43" fill="#00ff00"/>
<rect x="340" y="668" width="3" height="40" fill="#00ff00"/>
<rect x="356" y="669" width="3" height="39" fill="#00ff00"/>
<rect x="372" y="670" width="3" height="38" fill="#00ff00"/>
<rect x="388" y="671" width="3" height="37" fill="#00ff00"/>
<rect x="404" y="667" width="3" height="41" fill="#00ff00"/>
<rect x="420" y="663" width="3" height="45" fill="#00ff00"/>
<rect x="436" y="660" width="3" height="48" fill="#00ff00"/>
<rect x="452" y="658" width="3" height="50" fill="#00ff00"/>
<rect x="468" y="657" width="3" height="51" fill="#00ff00"/>
<rect x="484" y="656" width="3" height="52" fill="#00ff00"/>
<rect x="500" y="652" width="3" height="56" fill="#00ff00"/>
<rect x="516" y="648" width="3" height="60" fill="#00ff00"/>
<rect x="532" y="647" width="3" height="61" fill="#00ff00"/>
<rect x="548" y="646" width="3" height="62" fill="#00ff00"/>
<rect x="564" y="646" width="3" height="62" fill="#00ff00"/>
<rect x="580" y="648" width="3" height="60" fill="#00ff00"/>
<rect x="596" y="649" width="3" height="59" fill="#00ff00"/>
<rect x="612" y="644" width="3" height="64" fill="#00ff00"/>
<rect x="628" y="641" width="3" height="67" fill="#00ff00"/>
<rect x="644" y="640" width="3" height="68" fill="#00ff00"/>
<rect x="660" y="642" width="3" height="66" fill="#00ff00"/>
<rect x="676" y="645" width="3" height="63" fill="#00ff00"/>
<rect x="692" y="651" width="3" height="57" fill="#00ff00"/>
<rect x="708" y="660" width="3" height="48" fill="#00ff00"/>
<rect x="724" y="668" width="3" height="40" fill="#00ff00"/>
<rect x="740" y="676" width="3" height="32" fill="#00ff00"/>
<rect x="756" y="683" width="3" height="25" fill="#00ff00"/>
<rect x="772" y="692" width="3" height="16" fill="#00ff00"/>
<rect x="788" y="698" width="3" height="10" fill="#00ff00"/>
<rect x="804" y="704" width="3" height="4" fill="#00ff00"/>
<rect x="820" y="708" width="3" height="2" fill="#00ff00"/>
<rect x="836" y="708" width="3" height="6" fill="#00ff00"/>
<rect x="852" y="708" width="3" height="8" fill="#00ff00"/>
<rect x="868" y="708" width="3" height="11" fill="#00ff00"/>
<rect x="884" y="708" width="3" height="12" fill="#00ff00"/>
<rect x="900" y="708" width="3" height="7" fill="#00ff00"/>
<rect x="916" y="708" width="3" height="2" fill="#00ff00"/>
<rect x="932" y="704" width="3" height="4" fill="#00ff00"/>
<rect x="948" y="703" width="3" height="5" fill="#00ff00"/>
<rect x="964" y="701" width="3" height="7" fill="#00ff00"/>
<rect x="980" y="699" width="3" height="9" fill="#00ff00"/>
<rect x="996" y="695" width="3" height="13" fill="#00ff00"/>
<rect x="1012" y="697" width="3" height="11" fill="#00ff00"/>
<rect x="1028" y="699" width="3" height="9" fill="#00ff00"/>
<rect x="1044" y="699" width="3" height="9" fill="#00ff00"/>
<rect x="1060" y="701" width="3" height="7" fill="#00ff00"/>
<rect x="1076" y="700" width="3" height="8" fill="#00ff00"/>
<rect x="1092" y="701" width="3" height="7" fill="#00ff00"/>
<rect x="1108" y="700" width="3" height="8" fill="#00ff00"/>
<rect x="1124" y="700" width="3" height="8" fill="#00ff00"/>
<rect x="1140" y="695" width="3" height="13" fill="#00ff00"/>
<rect x="1156" y="691" width="3" height="17" fill="#00ff00"/>
<rect x="1172" y="689" width="3" height="19" fill="#00ff00"/>
<rect x="1188" y="686" width="3" height="22" fill="#00ff00"/>
<rect x="1204" y="683" width="3" height="25" fill="#00ff00"/>
<rect x="1220" y="680" width="3" height="28" fill="#00ff00"/>
<rect x="1236" y="681" width="3" height="27" fill="#00ff00"/>
<rect x="1252" y="679" width="3" height="29" fill="#00ff00"/>
<rect x="1268" y="680" width="3" height="28" fill="#00ff00"/>
<rect x="1284" y="677" width="3" height="31" fill="#00ff00"/>
<rect x="1300" y="666" width="3" height="42" fill="#00ff00"/>
<rect x="1316" y="660" width="3" height="48" fill="#00ff00"/>
<rect x="1332" y="655" width="3" height="53" fill="#00ff00"/>
<polyline points="5,686.0 21,685.0 37,683.5 53,682.5 69,682.0 85,681.5 101,680.5 117,680.0 133,679.5 149,679.0 165,679.5 181,679.5 197,679.0 213,678.5 229,677.5 245,676.0 261,674.0 277,672.5 293,670.5 309,669.0 325,667.0 341,666.0 357,665.0 373,665.5 389,666.5 405,667.0 421,667.0 437,666.5 453,666.0 469,665.5 485,663.5 501,661.3 517,659.5 533,656.5 549,654.5 565,652.5 581,651.0 597,650.4 613,648.4 629,647.0 645,646.0 661,645.0 677,645.0 693,645.0 709,646.4 725,649.0 741,652.0 757,656.0 773,662.5 789,669.0 805,676.0 821,683.3 837,689.2 853,695.6 869,701.5 885,706.1 901,710.0 917,712.0 933,712.0 949,712.0 965,711.8 981,709.5 997,707.3 1013,705.3 1029,702.5 1045,701.3 1061,700.3 1077,699.3 1093,698.8 1109,698.8 1125,698.8 1141,698.8 1157,698.2 1173,697.2 1189,695.2 1205,693.2 1221,691.2 1237,689.2 1253,687.2 1269,685.3 1285,683.3 1301,680.3 1317,677.3 1333,673.5" fill="none" stroke="#ff0000" stroke-width="2" shape-rendering="crispEdges" stroke-linejoin="round"/>
</g>
<g clip-path="url(#crsi)">
<path d="M6 743.5 H1612" stroke="#000" stroke-width="1" stroke-dasharray="3 3"/>
<path d="M6 768.5 H1612" stroke="#000" stroke-width="1" stroke-dasharray="3 3"/>
<path d="M6 797.5 H1612" stroke="#000" stroke-width="1" stroke-dasharray="3 3"/>
<polyline points="5,755.0 21,755.0 37,755.0 53,759.0 69,759.2 85,757.0 101,766.5 117,760.9 133,760.9 149,758.9 165,758.9 181,760.9 197,753.9 213,751.5 229,751.5 245,752.3 261,755.5 277,756.9 293,756.5 309,752.9 325,760.5 341,760.5 357,758.9 373,758.3 389,757.5 405,750.9 421,749.9 437,750.9 453,750.5 469,749.5 485,748.5 501,744.9 517,744.9 533,746.9 549,746.9 565,746.9 581,749.9 597,748.5 613,742.5 629,743.9 645,747.5 661,750.3 677,750.9 693,761.9 709,768.3 725,769.3 741,771.5 757,771.9 773,775.4 789,775.8 805,775.8 821,777.4 837,776.8 853,774.8 869,776.4 885,773.4 901,762.9 917,759.9 933,759.9 949,763.3 965,763.0 981,761.5 997,759.5 1013,767.5 1029,767.9 1045,766.9 1061,767.9 1077,764.5 1093,768.9 1109,763.3 1125,762.9 1141,758.9 1157,757.9 1173,757.9 1189,756.3 1205,754.5 1221,753.5 1237,758.5 1253,756.9 1269,759.9 1285,753.5 1301,746.2 1317,747.5 1333,747.5" fill="none" stroke="#1e90ff" stroke-width="2" shape-rendering="crispEdges" stroke-linejoin="round"/>
</g>
<rect x="1613" y="630" width="2" height="1" fill="#000"/>
<rect x="1613" y="597" width="2" height="1" fill="#000"/>
<rect x="1613" y="564" width="2" height="1" fill="#000"/>
<rect x="1613" y="531" width="2" height="1" fill="#000"/>
<rect x="1613" y="498" width="2" height="1" fill="#000"/>
<rect x="1613" y="465" width="2" height="1" fill="#000"/>
<rect x="1613" y="432" width="2" height="1" fill="#000"/>
<rect x="1613" y="399" width="2" height="1" fill="#000"/>
<rect x="1613" y="366" width="2" height="1" fill="#000"/>
<rect x="1613" y="333" width="2" height="1" fill="#000"/>
<rect x="1613" y="300" width="2" height="1" fill="#000"/>
<rect x="1613" y="267" width="2" height="1" fill="#000"/>
<rect x="1613" y="234" width="2" height="1" fill="#000"/>
<rect x="1613" y="201" width="2" height="1" fill="#000"/>
<rect x="1613" y="168" width="2" height="1" fill="#000"/>
<rect x="1613" y="135" width="2" height="1" fill="#000"/>
<rect x="1613" y="102" width="2" height="1" fill="#000"/>
<rect x="1613" y="69" width="2" height="1" fill="#000"/>
<rect x="1613" y="36" width="2" height="1" fill="#000"/>
<g shape-rendering="auto">
<text x="1617.50" y="634.00" font-size="10.00" fill="#000" stroke="#000" stroke-width="0.22" textLength="28.60" lengthAdjust="spacingAndGlyphs" >69.705</text>
<text x="1617.50" y="601.00" font-size="10.00" fill="#000" stroke="#000" stroke-width="0.22" textLength="28.60" lengthAdjust="spacingAndGlyphs" >70.275</text>
<text x="1617.50" y="568.00" font-size="10.00" fill="#000" stroke="#000" stroke-width="0.22" textLength="28.60" lengthAdjust="spacingAndGlyphs" >70.830</text>
<text x="1617.50" y="535.00" font-size="10.00" fill="#000" stroke="#000" stroke-width="0.22" textLength="28.60" lengthAdjust="spacingAndGlyphs" >71.400</text>
<text x="1617.50" y="502.00" font-size="10.00" fill="#000" stroke="#000" stroke-width="0.22" textLength="28.60" lengthAdjust="spacingAndGlyphs" >71.970</text>
<text x="1617.50" y="469.00" font-size="10.00" fill="#000" stroke="#000" stroke-width="0.22" textLength="28.60" lengthAdjust="spacingAndGlyphs" >72.525</text>
<text x="1617.50" y="436.00" font-size="10.00" fill="#000" stroke="#000" stroke-width="0.22" textLength="28.60" lengthAdjust="spacingAndGlyphs" >73.095</text>
<text x="1617.50" y="403.00" font-size="10.00" fill="#000" stroke="#000" stroke-width="0.22" textLength="28.60" lengthAdjust="spacingAndGlyphs" >73.665</text>
<text x="1617.50" y="370.00" font-size="10.00" fill="#000" stroke="#000" stroke-width="0.22" textLength="28.60" lengthAdjust="spacingAndGlyphs" >74.235</text>
<text x="1617.50" y="337.00" font-size="10.00" fill="#000" stroke="#000" stroke-width="0.22" textLength="28.60" lengthAdjust="spacingAndGlyphs" >74.790</text>
<text x="1617.50" y="304.00" font-size="10.00" fill="#000" stroke="#000" stroke-width="0.22" textLength="28.60" lengthAdjust="spacingAndGlyphs" >75.360</text>
<text x="1617.50" y="271.00" font-size="10.00" fill="#000" stroke="#000" stroke-width="0.22" textLength="28.60" lengthAdjust="spacingAndGlyphs" >75.930</text>
<text x="1617.50" y="238.00" font-size="10.00" fill="#000" stroke="#000" stroke-width="0.22" textLength="28.60" lengthAdjust="spacingAndGlyphs" >76.500</text>
<text x="1617.50" y="205.00" font-size="10.00" fill="#000" stroke="#000" stroke-width="0.22" textLength="28.60" lengthAdjust="spacingAndGlyphs" >77.055</text>
<text x="1617.50" y="172.00" font-size="10.00" fill="#000" stroke="#000" stroke-width="0.22" textLength="28.60" lengthAdjust="spacingAndGlyphs" >77.625</text>
<text x="1617.50" y="139.00" font-size="10.00" fill="#000" stroke="#000" stroke-width="0.22" textLength="28.60" lengthAdjust="spacingAndGlyphs" >78.195</text>
<text x="1617.50" y="106.00" font-size="10.00" fill="#000" stroke="#000" stroke-width="0.22" textLength="28.60" lengthAdjust="spacingAndGlyphs" >78.765</text>
<text x="1617.50" y="73.00" font-size="10.00" fill="#000" stroke="#000" stroke-width="0.22" textLength="28.60" lengthAdjust="spacingAndGlyphs" >79.320</text>
<text x="1617.50" y="40.00" font-size="10.00" fill="#000" stroke="#000" stroke-width="0.22" textLength="28.60" lengthAdjust="spacingAndGlyphs" >79.890</text>
</g>
<rect x="1614" y="34" width="36" height="11" fill="#ff0000"/>
<text x="1618.00" y="42.60" font-size="10.00" fill="#ffffff" stroke="#ffffff" stroke-width="0.00" textLength="28.20" lengthAdjust="spacingAndGlyphs" >79.815</text>
<rect x="1614" y="60" width="36" height="11" fill="#ff0000"/>
<text x="1618.00" y="68.60" font-size="10.00" fill="#ffffff" stroke="#ffffff" stroke-width="0.00" textLength="28.20" lengthAdjust="spacingAndGlyphs" >79.372</text>
<rect x="1614" y="89" width="36" height="11" fill="#000000"/>
<text x="1618.00" y="97.60" font-size="10.00" fill="#ffffff" stroke="#ffffff" stroke-width="0.00" textLength="28.20" lengthAdjust="spacingAndGlyphs" >78.905</text>
<rect x="1614" y="100" width="36" height="11" fill="#00bfff"/>
<text x="1618.00" y="108.60" font-size="10.00" fill="#ffffff" stroke="#ffffff" stroke-width="0.00" textLength="28.20" lengthAdjust="spacingAndGlyphs" >78.696</text>
<rect x="1614" y="130" width="36" height="11" fill="#0000ff"/>
<text x="1618.00" y="138.60" font-size="10.00" fill="#ffffff" stroke="#ffffff" stroke-width="0.00" textLength="28.20" lengthAdjust="spacingAndGlyphs" >78.181</text>
<rect x="1614" y="158" width="36" height="11" fill="#0000ff"/>
<text x="1618.00" y="166.60" font-size="10.00" fill="#ffffff" stroke="#ffffff" stroke-width="0.00" textLength="28.20" lengthAdjust="spacingAndGlyphs" >77.698</text>
<rect x="1613" y="637" width="2" height="1" fill="#000"/>
<rect x="1613" y="708" width="2" height="1" fill="#000"/>
<rect x="1613" y="722" width="2" height="1" fill="#000"/>
<text x="1616.20" y="646.00" font-size="10.00" fill="#000" stroke="#000" stroke-width="0.22" textLength="28.00" lengthAdjust="spacingAndGlyphs" >1.1227</text>
<text x="1616.00" y="711.80" font-size="10.00" fill="#000" stroke="#000" stroke-width="0.22" textLength="18.60" lengthAdjust="spacingAndGlyphs" >0.00</text>
<text x="1616.00" y="720.00" font-size="10.00" fill="#000" stroke="#000" stroke-width="0.22" textLength="31.50" lengthAdjust="spacingAndGlyphs" >-0.2312</text>
<rect x="1613" y="727" width="2" height="1" fill="#000"/>
<rect x="1613" y="809" width="2" height="1" fill="#000"/>
<text x="1616.00" y="736.20" font-size="10.00" fill="#000" stroke="#000" stroke-width="0.22" textLength="15.60" lengthAdjust="spacingAndGlyphs" >100</text>
<text x="1615.00" y="747.00" font-size="10.00" fill="#000" stroke="#000" stroke-width="0.22" textLength="10.60" lengthAdjust="spacingAndGlyphs" >80</text>
<text x="1615.00" y="772.00" font-size="10.00" fill="#000" stroke="#000" stroke-width="0.22" textLength="10.60" lengthAdjust="spacingAndGlyphs" >50</text>
<text x="1616.00" y="800.30" font-size="10.00" fill="#000" stroke="#000" stroke-width="0.22" textLength="10.00" lengthAdjust="spacingAndGlyphs" >15</text>
<text x="1615.40" y="807.00" font-size="10.00" fill="#000" stroke="#000" stroke-width="0.22" textLength="5.40" lengthAdjust="spacingAndGlyphs" >0</text>
<text x="20.30" y="39.00" font-size="10.00" fill="#000" stroke="#000" stroke-width="0.22" textLength="170.20" lengthAdjust="spacingAndGlyphs" >USOil-.H4  78.890 78.930 78.818 78.905</text>
<text x="9.20" y="648.30" font-size="10.00" fill="#000" stroke="#000" stroke-width="0.22" textLength="128.30" lengthAdjust="spacingAndGlyphs" >MACD(12,26,9) 0.8348 0.5422</text>
<text x="9.00" y="738.20" font-size="10.00" fill="#000" stroke="#000" stroke-width="0.22" textLength="68.50" lengthAdjust="spacingAndGlyphs" >RSI(14) 74.0125</text>
<rect x="5" y="811" width="1" height="3" fill="#000"/>
<text x="4.00" y="823.20" font-size="10.00" fill="#000" stroke="#000" stroke-width="0.22" textLength="41.99" lengthAdjust="spacingAndGlyphs" >5 Jul 2023</text>
<rect x="69" y="811" width="1" height="3" fill="#000"/>
<text x="68.00" y="823.20" font-size="10.00" fill="#000" stroke="#000" stroke-width="0.22" textLength="44.52" lengthAdjust="spacingAndGlyphs" >6 Jul 04:00</text>
<rect x="133" y="811" width="1" height="3" fill="#000"/>
<text x="132.00" y="823.20" font-size="10.00" fill="#000" stroke="#000" stroke-width="0.22" textLength="44.52" lengthAdjust="spacingAndGlyphs" >6 Jul 20:00</text>
<rect x="197" y="811" width="1" height="3" fill="#000"/>
<text x="196.00" y="823.20" font-size="10.00" fill="#000" stroke="#000" stroke-width="0.22" textLength="44.52" lengthAdjust="spacingAndGlyphs" >7 Jul 12:00</text>
<rect x="261" y="811" width="1" height="3" fill="#000"/>
<text x="260.00" y="823.20" font-size="10.00" fill="#000" stroke="#000" stroke-width="0.22" textLength="49.58" lengthAdjust="spacingAndGlyphs" >10 Jul 00:00</text>
<rect x="325" y="811" width="1" height="3" fill="#000"/>
<text x="324.00" y="823.20" font-size="10.00" fill="#000" stroke="#000" stroke-width="0.22" textLength="49.58" lengthAdjust="spacingAndGlyphs" >10 Jul 16:00</text>
<rect x="389" y="811" width="1" height="3" fill="#000"/>
<text x="388.00" y="823.20" font-size="10.00" fill="#000" stroke="#000" stroke-width="0.22" textLength="48.90" lengthAdjust="spacingAndGlyphs" >11 Jul 08:00</text>
<rect x="453" y="811" width="1" height="3" fill="#000"/>
<text x="452.00" y="823.20" font-size="10.00" fill="#000" stroke="#000" stroke-width="0.22" textLength="49.58" lengthAdjust="spacingAndGlyphs" >12 Jul 00:00</text>
<rect x="517" y="811" width="1" height="3" fill="#000"/>
<text x="516.00" y="823.20" font-size="10.00" fill="#000" stroke="#000" stroke-width="0.22" textLength="49.58" lengthAdjust="spacingAndGlyphs" >12 Jul 16:00</text>
<rect x="581" y="811" width="1" height="3" fill="#000"/>
<text x="580.00" y="823.20" font-size="10.00" fill="#000" stroke="#000" stroke-width="0.22" textLength="49.58" lengthAdjust="spacingAndGlyphs" >13 Jul 08:00</text>
<rect x="645" y="811" width="1" height="3" fill="#000"/>
<text x="644.00" y="823.20" font-size="10.00" fill="#000" stroke="#000" stroke-width="0.22" textLength="49.58" lengthAdjust="spacingAndGlyphs" >14 Jul 00:00</text>
<rect x="709" y="811" width="1" height="3" fill="#000"/>
<text x="708.00" y="823.20" font-size="10.00" fill="#000" stroke="#000" stroke-width="0.22" textLength="49.58" lengthAdjust="spacingAndGlyphs" >14 Jul 16:00</text>
<rect x="773" y="811" width="1" height="3" fill="#000"/>
<text x="772.00" y="823.20" font-size="10.00" fill="#000" stroke="#000" stroke-width="0.22" textLength="49.58" lengthAdjust="spacingAndGlyphs" >17 Jul 04:00</text>
<rect x="837" y="811" width="1" height="3" fill="#000"/>
<text x="836.00" y="823.20" font-size="10.00" fill="#000" stroke="#000" stroke-width="0.22" textLength="49.58" lengthAdjust="spacingAndGlyphs" >17 Jul 20:00</text>
<rect x="901" y="811" width="1" height="3" fill="#000"/>
<text x="900.00" y="823.20" font-size="10.00" fill="#000" stroke="#000" stroke-width="0.22" textLength="49.58" lengthAdjust="spacingAndGlyphs" >18 Jul 12:00</text>
<rect x="965" y="811" width="1" height="3" fill="#000"/>
<text x="964.00" y="823.20" font-size="10.00" fill="#000" stroke="#000" stroke-width="0.22" textLength="49.58" lengthAdjust="spacingAndGlyphs" >19 Jul 04:00</text>
<rect x="1029" y="811" width="1" height="3" fill="#000"/>
<text x="1028.00" y="823.20" font-size="10.00" fill="#000" stroke="#000" stroke-width="0.22" textLength="49.58" lengthAdjust="spacingAndGlyphs" >19 Jul 20:00</text>
<rect x="1093" y="811" width="1" height="3" fill="#000"/>
<text x="1092.00" y="823.20" font-size="10.00" fill="#000" stroke="#000" stroke-width="0.22" textLength="49.58" lengthAdjust="spacingAndGlyphs" >20 Jul 12:00</text>
<rect x="1157" y="811" width="1" height="3" fill="#000"/>
<text x="1156.00" y="823.20" font-size="10.00" fill="#000" stroke="#000" stroke-width="0.22" textLength="49.58" lengthAdjust="spacingAndGlyphs" >21 Jul 04:00</text>
<rect x="1221" y="811" width="1" height="3" fill="#000"/>
<text x="1220.00" y="823.20" font-size="10.00" fill="#000" stroke="#000" stroke-width="0.22" textLength="49.58" lengthAdjust="spacingAndGlyphs" >21 Jul 20:00</text>
<rect x="1285" y="811" width="1" height="3" fill="#000"/>
<text x="1284.00" y="823.20" font-size="10.00" fill="#000" stroke="#000" stroke-width="0.22" textLength="49.58" lengthAdjust="spacingAndGlyphs" >24 Jul 08:00</text>
</svg>
</body></html>
